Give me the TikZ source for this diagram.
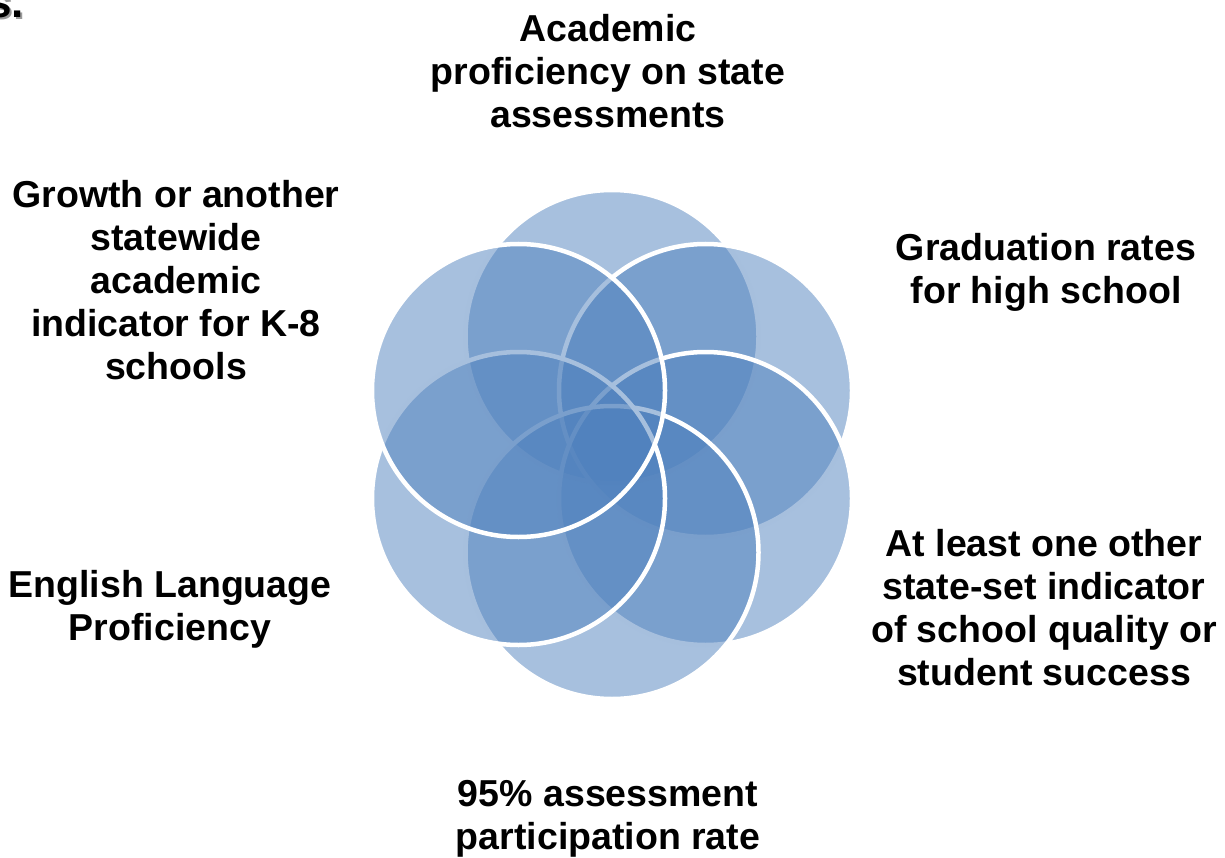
\documentclass[tikz,border=0pt]{standalone}
\usepackage{fontspec}
\setmainfont{Liberation Sans}
\definecolor{accent}{HTML}{4F81BD}
\definecolor{shadowgrey}{HTML}{9A9A9A}
\tikzset{
  petal/.style={circle, minimum size=293pt, inner sep=0pt, fill=accent, fill opacity=0.5, draw=white, draw opacity=1, line width=4.5pt},
  label/.style={align=center, inner sep=0pt, font=\bfseries\fontsize{37.5}{43}\selectfont, text=black},
}
\begin{document}
\begin{tikzpicture}[x=1pt,y=-1pt]
\useasboundingbox (0,0) rectangle (1225,858);
% petals, drawn in order so later fills tint earlier outlines
\node[petal] (p1) at (612,336.5) {};
\node[petal] (p2) at (705.5,390.5) {};
\node[petal] (p3) at (705.5,498.5) {};
\node[petal] (p4) at (612,552.5) {};
\node[petal] (p5) at (518.5,498.5) {};
\node[petal] (p6) at (518.5,390.5) {};
% labels
\node[label] (t1) at (608,71.5) {Academic\\proficiency on state\\assessments};
\node[label] (t2) at (1046,272) {Graduation rates\\for high school};
\node[label] (t3) at (1044,608) {At least one other\\state-set indicator\\of school quality or\\student success};
\node[label] (t4) at (608,819) {95\% assessment\\participation rate};
\node[label] (t5) at (170,609) {English Language\\Proficiency};
\node[label] (t6) at (176,280) {Growth or another\\statewide\\academic\\indicator for K-8\\schools};
% cut-off title fragment
\node[anchor=base east, inner sep=0pt, font=\bfseries\fontsize{44}{50}\selectfont, text=shadowgrey] (frags) at (26,19.5) {s.};
\node[anchor=base east, inner sep=0pt, font=\bfseries\fontsize{44}{50}\selectfont, text=black] (frag) at (24,17.5) {s.};
\end{tikzpicture}
\end{document}
